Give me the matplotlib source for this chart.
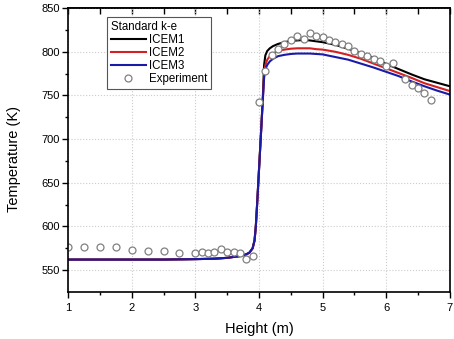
import matplotlib
matplotlib.use('Agg')
import matplotlib.pyplot as plt

plt.rcParams['font.family'] = ['Liberation Sans', 'DejaVu Sans']

# Experiment points
x_exp = [1.0, 1.25, 1.5, 1.75, 2.0, 2.25, 2.5, 2.75, 3.0, 3.1, 3.2, 3.3, 3.4, 3.5,
         3.6, 3.7, 3.8, 3.9, 4.0, 4.1, 4.2, 4.3, 4.4, 4.5, 4.6, 4.7, 4.8, 4.9,
         5.0, 5.1, 5.2, 5.3, 5.4, 5.5, 5.6, 5.7, 5.8, 5.9, 6.0, 6.1, 6.3, 6.4,
         6.5, 6.6, 6.7]
t_exp = [576, 576, 576, 576, 573, 572, 572, 570, 570, 571, 570, 571, 574, 571,
         571, 569, 563, 566, 743, 778, 796, 803, 809, 814, 818, 815, 821, 818,
         817, 814, 811, 809, 807, 801, 798, 795, 792, 790, 784, 787, 769, 762,
         759, 753, 745]

# simulations
x_sim = [1.0, 1.5, 2.0, 2.5, 3.0, 3.3, 3.5, 3.7, 3.8, 3.85, 3.9, 3.93, 3.95, 3.97,
         4.0, 4.03, 4.06, 4.08, 4.1, 4.13, 4.17, 4.22, 4.3, 4.4, 4.5, 4.6, 4.7,
         4.8, 4.9, 5.0, 5.2, 5.4, 5.6, 5.8, 6.0, 6.2, 6.4, 6.6, 6.8, 7.0]
t_icem1 = [562, 562, 562, 562, 562.5, 563, 564, 566, 568, 570, 575, 584, 600, 625,
           665, 705, 748, 785, 796, 801, 804, 806.5, 809, 811, 812.5, 813, 813.5,
           813, 812, 811, 808, 803.5, 798.5, 793, 786, 780, 774, 768.5, 764.5, 760.5]
t_icem2 = [562, 562, 562, 562, 562.5, 563, 564, 566, 568, 570, 575, 584, 600, 625,
           665, 705, 745, 775, 785, 791, 795, 798, 801, 802.5, 803.5, 804, 804,
           804, 803, 802.5, 800, 796.5, 792, 786.5, 781, 775.5, 770, 764, 759.5, 755]
t_icem3 = [562, 562, 562, 562, 562.5, 563, 564, 566, 568, 570, 575, 584, 600, 625,
           665, 705, 745, 770, 780, 785, 789, 792, 795, 796.5, 797.5, 798, 798,
           798, 797.5, 797, 794, 791, 786.5, 782, 777, 772, 766, 760.5, 755.5, 751]

fig = plt.figure(figsize=(4.54, 3.39), dpi=100)
ax = fig.add_axes([0.15, 0.139, 0.841, 0.837])

ax.plot(x_sim, t_icem1, color='black', lw=1.5, label='ICEM1')
ax.plot(x_sim, t_icem2, color='#d42020', lw=1.5, label='ICEM2')
ax.plot(x_sim, t_icem3, color='#1a1aa8', lw=1.5, label='ICEM3')
ax.plot(x_exp, t_exp, 'o', ms=5, mfc='white', mec='#808080', mew=0.9,
        label='Experiment')

ax.set_xlim(1, 7)
ax.set_ylim(525, 850)
ax.set_xticks([1, 2, 3, 4, 5, 6, 7])
ax.set_xticks([1.5, 2.5, 3.5, 4.5, 5.5, 6.5], minor=True)
ax.set_yticks([550, 600, 650, 700, 750, 800, 850])
ax.set_yticks([575, 625, 675, 725, 775, 825], minor=True)
ax.grid(True, which='major', color='#cccccc', ls=':', lw=0.8)

ax.tick_params(which='major', direction='out', length=4, width=1, labelsize=8,
               top=False, right=False, pad=2)
ax.tick_params(axis='x', which='major', pad=4)
ax.tick_params(which='minor', direction='out', length=2.5, width=1)
ax_top = ax.secondary_xaxis('top')
ax_top.set_xticks([1, 1.5, 2, 2.5, 3, 3.5, 4, 4.5, 5, 5.5, 6, 6.5, 7])
ax_top.tick_params(direction='in', length=4, width=1, labeltop=False)
for s in ax.spines.values():
    s.set_linewidth(1.2)
ax_top.spines['top'].set_linewidth(1.2)

ax.set_xlabel('Height (m)', fontsize=10.5, labelpad=6.5)
ax.set_ylabel('Temperature (K)', fontsize=10.5)
ax.yaxis.set_label_coords(-0.123, 0.47)

leg = ax.legend(title='Standard k-e', loc='upper left', bbox_to_anchor=(0.102, 0.968),
                borderaxespad=0, fontsize=8.3, title_fontsize=8.3, fancybox=False,
                edgecolor='#555555', framealpha=1, handlelength=3.1, handletextpad=0.25,
                labelspacing=0.1, borderpad=0.3, alignment='left')
leg.get_frame().set_linewidth(0.8)

fig.savefig('out.png', dpi=100)
